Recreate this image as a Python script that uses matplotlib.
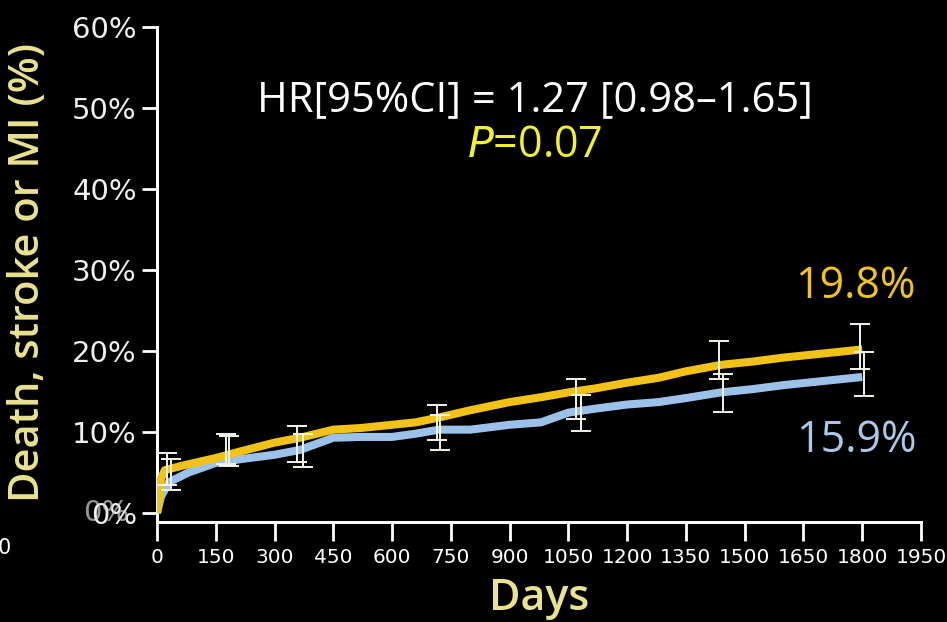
import matplotlib
matplotlib.use("Agg")
import matplotlib.pyplot as plt
from matplotlib.transforms import offset_copy

# Kaplan-Meier style curves (days, cumulative %)
days_yellow = [0, 10, 20, 60, 150, 220, 300, 365, 450, 520, 600, 660, 720, 800, 900, 980, 1050,
               1120, 1200, 1280, 1350, 1440, 1520, 1600, 1700, 1800]
pct_yellow = [0.0, 4.2, 5.3, 5.8, 6.8, 7.7, 8.7, 9.3, 10.3, 10.5, 10.9, 11.2, 11.8, 12.7, 13.7,
              14.3, 14.9, 15.4, 16.1, 16.7, 17.5, 18.3, 18.7, 19.2, 19.7, 20.2]

days_blue = [0, 10, 30, 80, 150, 220, 300, 365, 450, 520, 600, 660, 720, 800, 900, 980, 1050,
             1120, 1200, 1280, 1350, 1440, 1520, 1600, 1700, 1800]
pct_blue = [0.0, 2.0, 3.8, 5.0, 6.2, 6.7, 7.2, 7.8, 9.3, 9.4, 9.4, 9.8, 10.3, 10.3, 10.9, 11.2,
            12.4, 12.9, 13.4, 13.7, 14.2, 14.9, 15.3, 15.8, 16.3, 16.8]

# confidence interval bars (low, high)
ci_days_yellow = [25, 175, 358, 715, 1070, 1435, 1795]
ci_low_yellow = [3.5, 6.1, 6.3, 9.0, 11.6, 16.5, 17.8]
ci_high_yellow = [7.4, 9.8, 10.8, 13.4, 16.6, 21.2, 23.4]

ci_days_blue = [35, 185, 372, 722, 1082, 1445, 1805]
ci_low_blue = [2.8, 5.8, 5.7, 7.8, 10.1, 12.5, 14.4]
ci_high_blue = [6.7, 9.5, 9.8, 12.1, 14.6, 17.2, 19.9]

x_ticks = list(range(0, 1951, 150))
y_ticks = [0, 10, 20, 30, 40, 50, 60]

hr_text = "HR[95%CI] = 1.27 [0.98\u20131.65]"
p_text = r"$\it{P}$=0.07"
end_yellow = "19.8%"
end_blue = "15.9%"

YELLOW = "#f2c316"
BLUE = "#9cc2ea"
LABEL = "#e9e28e"
NARROW = ["Liberation Sans Narrow", "DejaVu Sans"]

fig = plt.figure(figsize=(9.47, 6.22), dpi=100, facecolor="black")
ax = fig.add_axes([157 / 947, 100 / 622, 764 / 947, 495 / 622], facecolor="black")

ax.plot(days_blue, pct_blue, color=BLUE, lw=5.8, solid_capstyle="butt", zorder=2)
ax.plot(days_yellow, pct_yellow, color=YELLOW, lw=5.8, solid_capstyle="butt", zorder=3)

bars = list(zip(ci_days_yellow, ci_low_yellow, ci_high_yellow)) + \
    list(zip(ci_days_blue, ci_low_blue, ci_high_blue))
for d, lo, hi in bars:
    ax.errorbar([d], [(lo + hi) / 2], yerr=[[(hi - lo) / 2], [(hi - lo) / 2]], fmt="none",
                ecolor="#f4f4ea", elinewidth=1.4, capsize=7, capthick=1.4, zorder=4)

ax.set_xlim(0, 1950)
ax.set_ylim(-1.1, 60)
ax.set_xticks(x_ticks)
ax.set_xticklabels([str(v) for v in x_ticks], fontsize=14.5, color="white", family=NARROW)
ax.set_yticks(y_ticks)
ax.set_yticklabels([f"{v}%" for v in y_ticks], fontsize=21, color="#f0f0f0", family="DejaVu Sans")

ax.spines["top"].set_visible(False)
ax.spines["right"].set_visible(False)
for s in ("left", "bottom"):
    ax.spines[s].set_color("white")
    ax.spines[s].set_linewidth(2.2)
ax.tick_params(axis="x", direction="out", length=14, width=2, color="white", pad=5)
ax.tick_params(axis="y", direction="out", length=11, width=2, color="white", pad=3.5)

# doubled zero label as in the source slide
ghost = offset_copy(ax.get_yaxis_transform(), fig=fig, x=-20, y=0, units="points")
ax.text(0, 0, "0%", transform=ghost, ha="right", va="center", fontsize=21,
        color="#d8d8d8", alpha=0.7, family="DejaVu Sans")
fig.text(-0.003, 0.119, "0", fontsize=15, color="white", ha="left", va="center", family=NARROW)

ax.set_ylabel("Death, stroke or MI (%)", fontsize=30, color=LABEL, fontweight="semibold",
              family="Open Sans")
ax.yaxis.set_label_coords(-0.142, 0.505)
ax.set_xlabel("Days", fontsize=31, color=LABEL, fontweight="semibold", family="Open Sans",
              labelpad=7)

ax.text(0.495, 0.852, hr_text, transform=ax.transAxes, ha="center", va="center",
        fontsize=30, color="white", family="Open Sans")
ax.text(0.495, 0.76, p_text, transform=ax.transAxes, ha="center", va="center",
        fontsize=31, color="#f3f02e", family="Open Sans")
ax.text(0.914, 0.475, end_yellow, transform=ax.transAxes, ha="center", va="center",
        fontsize=31, color="#f0c41c", family="Open Sans")
ax.text(0.916, 0.164, end_blue, transform=ax.transAxes, ha="center", va="center",
        fontsize=31, color="#a9c8e8", family="Open Sans")

fig.savefig("out.png", dpi=100, facecolor="black")
